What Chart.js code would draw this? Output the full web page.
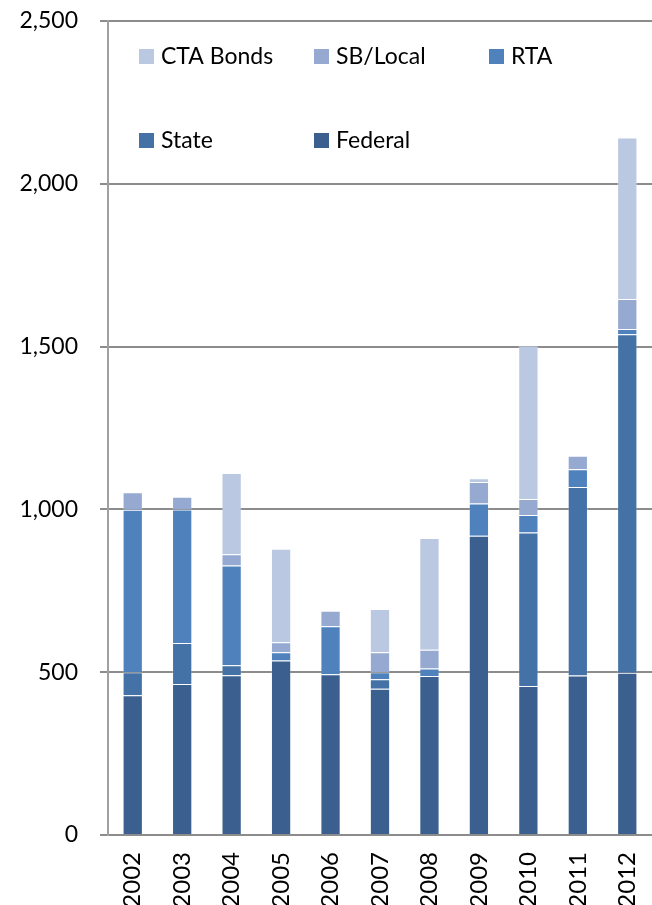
<!DOCTYPE html>
<html>
<head>
<meta charset="utf-8">
<script src="https://cdn.jsdelivr.net/npm/chart.js@4.4.1/dist/chart.umd.min.js"></script>
<style>
  html, body { margin: 0; padding: 0; background: #ffffff; }
  #wrap { position: relative; width: 652px; height: 905px; }
</style>
</head>
<body>
<div id="wrap"><canvas id="c" width="652" height="905"></canvas></div>
<script>
const years = ['2002','2003','2004','2005','2006','2007','2008','2009','2010','2011','2012'];
const federal  = [429, 464, 491, 536, 494, 449, 488, 919, 458, 490, 498];
const state    = [ 71, 126,  30,   0,   0,  29,   0,   0, 471, 579, 1040];
const rta      = [499, 410, 307,  25, 147,  22,  23,  99,  54,  54,  16];
const sbLocal  = [ 54,  39,  34,  31,  48,  61,  58,  66,  49,  42,  92];
const ctaBonds = [  0,   0, 250, 287,   0, 133, 343,  12, 471,   0, 496];
const yTicks = [0, 500, 1000, 1500, 2000, 2500];

const FONT = 'Lato, "Open Sans", "DejaVu Sans", sans-serif';

const mk = (label, data, color) => ({
  label, data, backgroundColor: color,
  borderColor: 'rgba(255,255,255,0.2)', borderWidth: 1,
  barPercentage: 0.41, categoryPercentage: 1.0
});

const legendPlugin = {
  id: 'insideLegend',
  afterDraw(chart) {
    const ctx = chart.ctx;
    const a = chart.chartArea;
    const items = chart.data.datasets.slice().reverse();
    ctx.save();
    ctx.font = '23px ' + FONT;
    ctx.textBaseline = 'middle';
    ctx.textAlign = 'left';
    items.forEach((ds, i) => {
      const col = i % 3, row = Math.floor(i / 3);
      const bx = a.left + 31 + col * 175;
      const by = a.top + 28 + row * 84;
      ctx.fillStyle = ds.backgroundColor;
      ctx.fillRect(bx, by, 15, 15);
      ctx.fillStyle = '#000000';
      ctx.fillText(ds.label, bx + 22, by + 8);
    });
    ctx.restore();
  }
};

new Chart(document.getElementById('c'), {
  type: 'bar',
  data: {
    labels: years,
    datasets: [
      mk('Federal', federal, '#3B608F'),
      mk('State', state, '#4472A6'),
      mk('RTA', rta, '#4F81BD'),
      mk('SB/Local', sbLocal, '#95A9D1'),
      mk('CTA Bonds', ctaBonds, '#BAC8E1')
    ]
  },
  options: {
    responsive: false,
    animation: false,
    layout: { padding: { top: 21, right: 0, left: 0, bottom: 0 } },
    plugins: { legend: { display: false }, tooltip: { enabled: false } },
    scales: {
      x: {
        stacked: true,
        grid: { display: false, drawTicks: false },
        border: { display: true, color: '#8C8C8C', width: 2 },
        ticks: {
          color: '#000000', font: { family: FONT, size: 24 },
          maxRotation: 90, minRotation: 90, padding: 17, autoSkip: false
        },
        afterFit(scale) { scale.height = 70; scale.paddingRight = 0; scale.paddingLeft = 0; scale.paddingTop = 0; }
      },
      y: {
        stacked: true,
        min: 0, max: 2500,
        afterBuildTicks(scale) { scale.ticks = yTicks.map(v => ({ value: v })); },
        grid: { color: '#8C8C8C', lineWidth: 2, tickLength: 8, drawTicks: true },
        border: { display: true, color: '#A0A0A0', width: 2 },
        ticks: {
          color: '#000000', font: { family: FONT, size: 23 }, padding: 22,
          callback: v => Number(v).toLocaleString('en-US')
        },
        afterFit(scale) { scale.width = 108; scale.paddingTop = 0; scale.paddingBottom = 0; }
      }
    }
  },
  plugins: [legendPlugin]
});
</script>
</body>
</html>
